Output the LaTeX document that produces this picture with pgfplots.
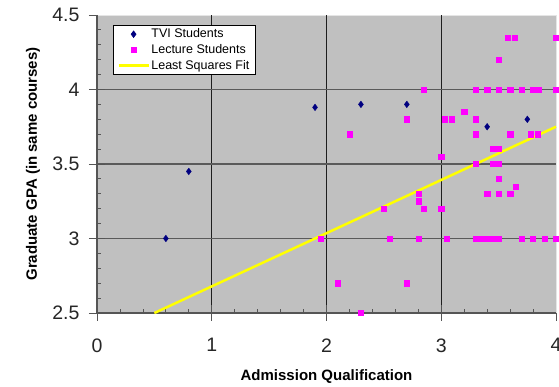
\documentclass[border=0pt]{standalone}
\usepackage{fontspec}
\setmainfont{Liberation Sans}
\usepackage{pgfplots}
\pgfplotsset{compat=1.18}
\definecolor{bggray}{RGB}{192,192,192}
\definecolor{axgray}{RGB}{85,85,85}
\definecolor{hgrid}{RGB}{90,90,90}
\definecolor{vgrid}{RGB}{30,30,30}
\definecolor{tvi}{RGB}{0,0,128}
\definecolor{lect}{RGB}{255,0,255}
\definecolor{fit}{RGB}{255,255,0}
\begin{document}
\begin{tikzpicture}
\begin{axis}[
  name=ax, scale only axis, width=459pt, height=298pt,
  xmin=0, xmax=4, ymin=2.5, ymax=4.5,
  clip=false,
  axis background/.style={fill=bggray, draw=gray!20},
  axis x line*=bottom, axis y line*=left,
  axis line style={-, draw=axgray, line width=1.3pt},
  xtick={1,2,3}, ytick={3,3.5,4},
  xticklabels={}, yticklabels={},
  minor xtick={0.2,0.4,0.6,0.8,1.2,1.4,1.6,1.8,2.2,2.4,2.6,2.8,3.2,3.4,3.6,3.8},
  minor ytick={2.6,2.7,2.8,2.9,3.1,3.2,3.3,3.4,3.6,3.7,3.8,3.9,4.1,4.2,4.3,4.4},
  tick align=inside, major tick length=8pt, minor tick length=4pt,
  tick style={draw=axgray, line width=0.8pt},
  xmajorgrids, ymajorgrids,
  x grid style={draw=vgrid, line width=0.8pt},
  y grid style={draw=hgrid, line width=1.8pt},
  extra x ticks={0,1,2,3,4},
  extra y ticks={2.5,3,3.5,4,4.5},
  extra tick style={tick align=outside, grid=none},
  /pgf/number format/assume math mode=true,
  tick label style={font=\fontsize{19.5}{20}\selectfont, text=black!85},
  xticklabel style={yshift=-14pt},
  yticklabel style={xshift=-6pt},
  xlabel={Admission Qualification},
  ylabel={Graduate GPA (in same courses)},
  label style={font=\bfseries\fontsize{15}{16}\selectfont},
  xlabel style={at={(axis description cs:0.5,-0.2138)}, anchor=center},
  ylabel style={at={(axis description cs:-0.1394,0.5)}, anchor=center},
  legend image code/.code={\draw[mark repeat=2,mark phase=2,#1] plot coordinates {(0pt,0pt)(15pt,0pt)(30pt,0pt)};},
  legend cell align=left,
  legend style={at={(0.035,0.966)}, anchor=north west, draw=black, fill=white,
    line width=0.6pt, font=\fontsize{12.5}{13}\selectfont,
    nodes={inner sep=1.5pt}, row sep=2pt, inner xsep=4pt, inner ysep=2pt},
]
\addplot[forget plot, fit, line width=2.5pt] coordinates {(0.5,2.5) (4,3.75)};
\addplot[only marks, mark=diamond*, mark size=3.3pt, color=tvi] coordinates {
 (0.6,3.0) (0.8,3.45) (1.9,3.88) (2.3,3.9) (2.7,3.9) (3.4,3.75) (3.75,3.8)
};
\addlegendentry{TVI Students}
\addplot[only marks, mark=square*, mark size=2.6pt, color=lect] coordinates {
 (1.95,3.0) (2.1,2.7) (2.2,3.7) (2.3,2.5) (2.5,3.2) (2.55,3.0) (2.7,2.7) (2.7,3.8)
 (2.8,3.3) (2.8,3.25) (2.8,3.0) (2.85,3.2) (2.85,4.0) (3.0,3.2) (3.0,3.55) (3.05,3.0)
 (3.03,3.8) (3.09,3.8) (3.2,3.85) (3.3,3.8) (3.3,3.7) (3.3,3.5)
 (3.3,4.0) (3.4,4.0) (3.5,4.0) (3.6,4.0) (3.7,4.0) (3.8,4.0) (3.85,4.0) (4.0,4.0)
 (3.5,4.2) (3.58,4.35) (3.64,4.35) (4.0,4.35)
 (3.45,3.6) (3.5,3.6) (3.45,3.5) (3.5,3.5) (3.5,3.4) (3.65,3.35)
 (3.4,3.3) (3.5,3.3) (3.6,3.3) (3.6,3.7) (3.78,3.7) (3.84,3.7)
 (3.3,3.0) (3.35,3.0) (3.4,3.0) (3.45,3.0) (3.5,3.0)
 (3.7,3.0) (3.8,3.0) (3.9,3.0) (4.0,3.0)
};
\addlegendentry{Lecture Students}
\addlegendimage{fit, line width=2.5pt}
\addlegendentry{Least Squares Fit}
\end{axis}
\pgfresetboundingbox
\path ([shift={(-97pt,-74pt)}]ax.south west) rectangle ([shift={(3pt,15pt)}]ax.north east);
\end{tikzpicture}
\end{document}
